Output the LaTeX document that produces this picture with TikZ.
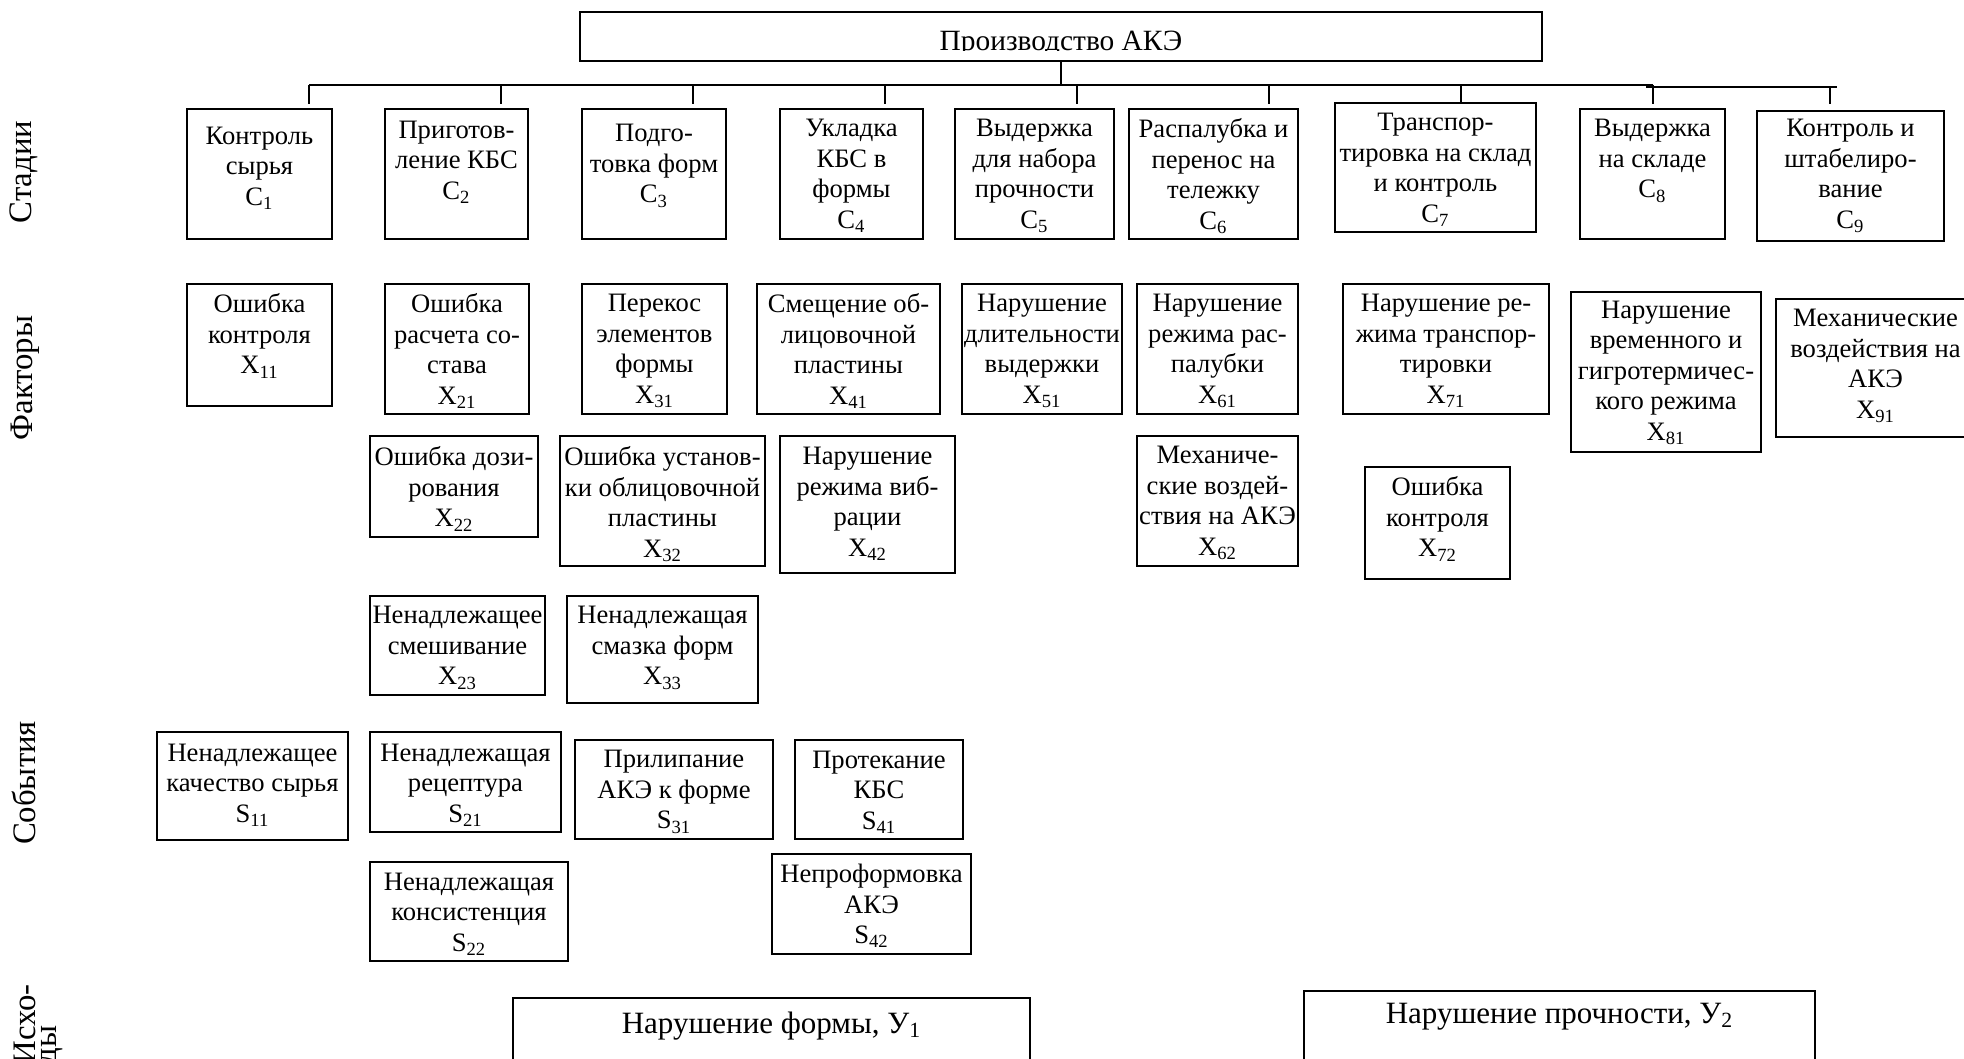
\documentclass[tikz,border=0pt]{standalone}
\usepackage{fontspec}
\setmainfont{Liberation Serif}
\newcommand\sbs[1]{\textsubscript{#1}}
\tikzset{
  box/.style={draw, line width=0.9pt, inner sep=0pt, outer sep=0pt},
  txt/.style={align=center, inner sep=0pt, font=\fontsize{13.3}{15.25}\selectfont},
  conn/.style={line width=0.75pt},
  lbl/.style={inner sep=0pt, rotate=90, font=\fontsize{16.4}{19}\selectfont},
  big/.style={inner sep=0pt, anchor=base, font=\fontsize{15.5}{18}\selectfont},
}
% name, x1, y1, x2, y2, y of text centre, text
\newcommand\bx[7]{%
  \node[box, minimum width={(#4-#2)*0.5pt}, minimum height={(#5-#3)*0.5pt}] (#1) at ({(#2+#4)/2},{(#3+#5)/2}) {};
  \node[txt] (#1t) at ({(#2+#4)/2},#6) {#7};
}
\begin{document}
\begin{tikzpicture}[x=0.5pt, y=-0.5pt]
\useasboundingbox (0,0) rectangle (1964,1059);
\fill[white] (0,0) rectangle (1964,1059);
\clip (0,0) rectangle (1964,1059);

% title
\node[box, minimum width=481pt, minimum height=24.5pt] (title) at (1061,36.5) {};
\begin{scope}
  \clip (580,12) rectangle (1542,50.5);
  \node[inner sep=0pt, anchor=base, font=\fontsize{14.7}{17}\selectfont] (titlet) at (1061,51) {Производство АКЭ};
\end{scope}

% bus
\coordinate (tb) at (1061,85);
\draw[conn] (title.south) -- (tb);
\coordinate (busL) at (309,85);
\coordinate (busR) at (1653,85);
\draw[line width=0.85pt] (busL) -- (busR);
\coordinate (busTL) at (1646,87);
\coordinate (busTR) at (1837,87);
\draw[line width=1.1pt] (busTL) -- (busTR);
\foreach \i/\x/\ya/\yb in {1/309/85/104, 2/501/85/104, 3/693/85/104, 4/885/85/104, 5/1077/85/104, 6/1269/85/104, 7/1461/85/103, 8/1653/85/104, 9/1830/87/104}{
  \coordinate (dA\i) at (\x,\ya);
  \coordinate (dB\i) at (\x,\yb);
  \draw[conn] (dA\i) -- (dB\i);
}

% stages
\bx{C1}{187}{109}{332}{239}{168}{Контроль\\сырья\\C\sbs{1}}
\bx{C2}{385}{109}{528}{239}{162}{Приготов-\\ление КБС\\C\sbs{2}}
\bx{C3}{582}{109}{726}{239}{166}{Подго-\\товка форм\\C\sbs{3}}
\bx{C4}{780}{109}{923}{239}{176}{Укладка\\КБС в\\формы\\C\sbs{4}}
\bx{C5}{955}{109}{1114}{239}{176}{Выдержка\\для набора\\прочности\\C\sbs{5}}
\bx{C6}{1129}{109}{1298}{239}{176}{Распалубка и\\перенос на\\тележку\\C\sbs{6}}
\bx{C7}{1335}{103}{1536}{232}{170}{Транспор-\\тировка на склад\\и контроль\\C\sbs{7}}
\bx{C8}{1580}{109}{1725}{239}{161}{Выдержка\\на складе\\C\sbs{8}}
\bx{C9}{1757}{111}{1944}{241}{176}{Контроль и\\штабелиро-\\вание\\C\sbs{9}}

% factors, row 1
\bx{X11}{187}{284}{332}{406}{336}{Ошибка\\контроля\\X\sbs{11}}
\bx{X21}{385}{284}{529}{414}{351}{Ошибка\\расчета со-\\става\\X\sbs{21}}
\bx{X31}{582}{284}{727}{414}{351}{Перекос\\элементов\\формы\\X\sbs{31}}
\bx{X41}{757}{284}{940}{414}{351}{Смещение об-\\лицовочной\\пластины\\X\sbs{41}}
\bx{X51}{962}{284}{1122}{414}{351}{Нарушение\\длительности\\выдержки\\X\sbs{51}}
\bx{X61}{1137}{284}{1298}{414}{351}{Нарушение\\режима рас-\\палубки\\X\sbs{61}}
\bx{X71}{1343}{284}{1549}{414}{351}{Нарушение ре-\\жима транспор-\\тировки\\X\sbs{71}}
\bx{X81}{1571}{292}{1761}{452}{373}{Нарушение\\временного и\\гигротермичес-\\кого режима\\X\sbs{81}}
\bx{X91}{1776}{299}{1975}{437}{366}{Механические\\воздействия на\\АКЭ\\X\sbs{91}}

% factors, row 2
\bx{X22}{370}{436}{538}{537}{489}{Ошибка дози-\\рования\\X\sbs{22}}
\bx{X32}{560}{436}{765}{566}{504}{Ошибка установ-\\ки облицовочной\\пластины\\X\sbs{32}}
\bx{X42}{780}{436}{955}{573}{504}{Нарушение\\режима виб-\\рации\\X\sbs{42}}
\bx{X62}{1137}{436}{1298}{566}{503}{Механиче-\\ские воздей-\\ствия на АКЭ\\X\sbs{62}}
\bx{X72}{1365}{467}{1510}{579}{519}{Ошибка\\контроля\\X\sbs{72}}

% factors, row 3
\bx{X23}{370}{596}{545}{695}{648}{Ненадлежащее\\смешивание\\X\sbs{23}}
\bx{X33}{567}{596}{758}{703}{648}{Ненадлежащая\\смазка форм\\X\sbs{33}}

% events
\bx{S11}{157}{732}{348}{840}{785}{Ненадлежащее\\качество сырья\\S\sbs{11}}
\bx{S21}{370}{732}{561}{832}{785}{Ненадлежащая\\рецептура\\S\sbs{21}}
\bx{S31}{575}{740}{773}{839}{792}{Прилипание\\АКЭ к форме\\S\sbs{31}}
\bx{S41}{795}{740}{963}{839}{792}{Протекание\\КБС\\S\sbs{41}}
\bx{S22}{370}{862}{568}{961}{914}{Ненадлежащая\\консистенция\\S\sbs{22}}
\bx{S42}{772}{854}{971}{954}{906}{Непроформовка\\АКЭ\\S\sbs{42}}

% outcomes
\node[box, minimum width=258.5pt, minimum height=41pt] (U1) at (771.5,1039) {};
\node[big] (U1t) at (771.5,1033) {Нарушение формы, У\sbs{1}};
\node[box, minimum width=255.5pt, minimum height=44.5pt] (U2) at (1559.5,1035.5) {};
\node[big] (U2t) at (1559.5,1023) {Нарушение прочности, У\sbs{2}};

% row labels
\node[lbl] (Lst) at (24,172) {Стадии};
\node[lbl] (Lfa) at (25,378) {Факторы};
\node[lbl] (Lso) at (24,783) {События};
\node[lbl, anchor=north west, align=left, font=\fontsize{16.4}{10.5}\selectfont] (Lis) at (14,1065) {Исхо-\\ды};
\end{tikzpicture}
\end{document}
